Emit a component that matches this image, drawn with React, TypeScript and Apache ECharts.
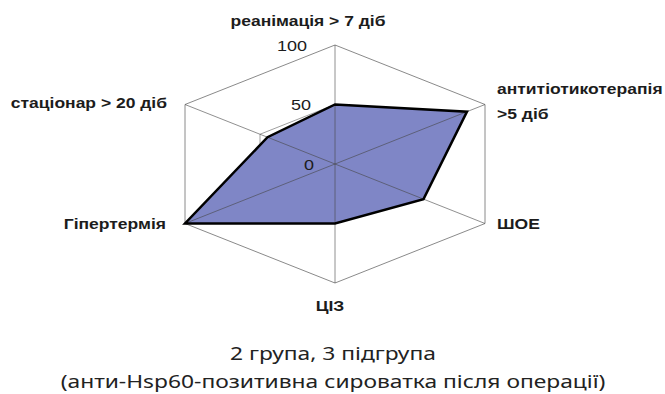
import React, { useEffect, useRef } from "react";
import * as echarts from "echarts";

// ---- data ----
const indicators: string[] = [
  "реанімація > 7 діб",
  "антитіотикотерапія\n>5 діб",
  "ШОЕ",
  "ЦІЗ",
  "Гіпертермія",
  "стаціонар > 20 діб",
];
const values: number[] = [50, 88, 59, 50, 100, 45];
const ringLevels: number[] = [50, 100];
const tickLabels: number[] = [0, 50, 100];
const subtitleLines: string[] = [
  "2 група, 3 підгрупа",
  "(анти-Hsp60-позитивна сироватка після операції)",
];

// ---- layout / style ----
// projection directions of the six axes (oblique hexagon)
const DIRS: [number, number][] = [
  [0, 1],
  [1, 0.5],
  [1, -0.5],
  [0, -1],
  [-1, -0.5],
  [-1, 0.5],
];
const LABEL_POS: { dx: number; dy: number; align: string }[] = [
  { dx: -27, dy: -24, align: "center" },
  { dx: 12, dy: -3, align: "left" },
  { dx: 12, dy: 1, align: "left" },
  { dx: -5, dy: 23, align: "center" },
  { dx: -19, dy: 1, align: "right" },
  { dx: -18, dy: -1, align: "right" },
];
const TICK_DX: number[] = [-21, -24, -28];
const LABEL_FONT = "Liberation Sans, Arial, sans-serif";
const TEXT_COLOR = "#1c1c1c";

export default function App() {
  const ref = useRef<HTMLDivElement>(null);
  useEffect(() => {
    if (!ref.current) return;
    document.body.style.margin = "0";
    const chart = echarts.init(ref.current, undefined, { renderer: "svg" });
    const pt = (api: any, k: number, v: number) =>
      api.coord([DIRS[k][0] * v, DIRS[k][1] * v]);

    chart.setOption({
      animation: false,
      tooltip: { show: false },
      grid: { left: 185, width: 300, top: 45, height: 238 },
      xAxis: { type: "value", min: -100, max: 100, show: false },
      yAxis: { type: "value", min: -100, max: 100, show: false },
      series: [
        {
          type: "custom",
          coordinateSystem: "cartesian2d",
          silent: true,
          z: 1,
          data: ringLevels.map((v) => [v, 0]),
          renderItem: (params: any, api: any) => {
            const v = api.value(0);
            return {
              type: "polygon",
              shape: { points: DIRS.map((_, k) => pt(api, k, v)) },
              style: { fill: "none", stroke: v === 100 ? "#8a8a8a" : "#a0a0a0", lineWidth: 1 },
            };
          },
        },
        {
          type: "custom",
          coordinateSystem: "cartesian2d",
          silent: true,
          z: 2,
          data: [values],
          renderItem: (params: any, api: any) => ({
            type: "polygon",
            shape: { points: DIRS.map((_, k) => pt(api, k, api.value(k))) },
            style: { fill: "#7f86c6", stroke: "none" },
          }),
        },
        {
          type: "custom",
          coordinateSystem: "cartesian2d",
          silent: true,
          z: 3,
          data: [[0, 0], [1, 0], [2, 0]],
          renderItem: (params: any, api: any) => {
            const i = params.dataIndex;
            const a = pt(api, i, 100);
            const b = pt(api, i + 3, 100);
            return {
              type: "line",
              shape: { x1: a[0], y1: a[1], x2: b[0], y2: b[1] },
              style: { stroke: "rgba(70,70,70,0.6)", lineWidth: 1 },
            };
          },
        },
        {
          type: "custom",
          coordinateSystem: "cartesian2d",
          silent: true,
          z: 4,
          data: [values],
          renderItem: (params: any, api: any) => ({
            type: "polygon",
            shape: { points: DIRS.map((_, k) => pt(api, k, api.value(k))) },
            style: { fill: "none", stroke: "#000", lineWidth: 2.5, lineJoin: "miter" },
          }),
        },
        {
          type: "custom",
          coordinateSystem: "cartesian2d",
          silent: true,
          z: 5,
          data: indicators.map((_, i) => [i, 0]),
          renderItem: (params: any, api: any) => {
            const i = params.dataIndex;
            const p = pt(api, i, 100);
            const lp = LABEL_POS[i];
            return {
              type: "text",
              x: p[0] + lp.dx,
              y: p[1] + lp.dy,
              scaleX: 1.25,
              style: {
                text: indicators[i],
                x: 0,
                y: 0,
                align: lp.align,
                verticalAlign: "middle",
                font: `bold 14px ${LABEL_FONT}`,
                lineHeight: 25,
                fill: TEXT_COLOR,
              },
            };
          },
        },
        {
          type: "custom",
          coordinateSystem: "cartesian2d",
          silent: true,
          z: 5,
          data: tickLabels.map((v) => [v, 0]),
          renderItem: (params: any, api: any) => {
            const v = api.value(0);
            const p = pt(api, 0, v);
            return {
              type: "text",
              x: p[0] + TICK_DX[params.dataIndex],
              y: p[1] + 1,
              scaleX: 1.2,
              style: {
                text: String(v),
                x: 0,
                y: 0,
                align: "right",
                verticalAlign: "middle",
                font: `15px ${LABEL_FONT}`,
                fill: TEXT_COLOR,
              },
            };
          },
        },
      ],
      graphic: subtitleLines.map((t, i) => ({
        type: "text",
        x: 333,
        y: 353 + i * 28,
        scaleX: 1.2,
        style: {
          text: t,
          x: 0,
          y: 0,
          align: "center",
          verticalAlign: "middle",
          font: "19px 'Noto Sans', sans-serif",
          fill: "#222",
        },
      })),
    });
    return () => chart.dispose();
  }, []);
  return (
    <div
      ref={ref}
      style={{ position: "fixed", left: 0, top: 0, width: 665, height: 394, background: "#fff" }}
    />
  );
}
